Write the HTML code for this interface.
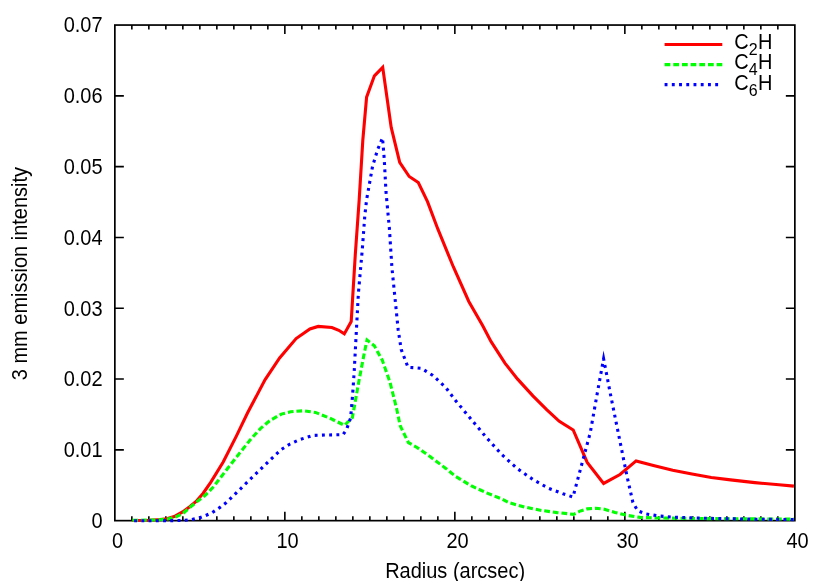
<!DOCTYPE html>
<html><head><meta charset="utf-8"><title>plot</title>
<style>
html,body{margin:0;padding:0;background:#fff;}
body{width:829px;height:581px;overflow:hidden;}
svg{display:block;will-change:transform;}
text{font-family:"Liberation Sans",sans-serif;font-size:20px;fill:#000;}
.sub{font-size:16px;}
</style></head><body>
<svg width="829" height="581" viewBox="0 0 829 581">
<rect x="0" y="0" width="829" height="581" fill="#fff"/>
<path d="M131.85,520.65 v-4.5 M131.85,25.05 v4.5 M148.85,520.65 v-4.5 M148.85,25.05 v4.5 M165.85,520.65 v-4.5 M165.85,25.05 v4.5 M182.85,520.65 v-4.5 M182.85,25.05 v4.5 M199.85,520.65 v-4.5 M199.85,25.05 v4.5 M216.85,520.65 v-4.5 M216.85,25.05 v4.5 M233.85,520.65 v-4.5 M233.85,25.05 v4.5 M250.85,520.65 v-4.5 M250.85,25.05 v4.5 M267.85,520.65 v-4.5 M267.85,25.05 v4.5 M284.85,520.65 v-9.0 M284.85,25.05 v9.0 M301.85,520.65 v-4.5 M301.85,25.05 v4.5 M318.85,520.65 v-4.5 M318.85,25.05 v4.5 M335.85,520.65 v-4.5 M335.85,25.05 v4.5 M352.85,520.65 v-4.5 M352.85,25.05 v4.5 M369.85,520.65 v-4.5 M369.85,25.05 v4.5 M386.85,520.65 v-4.5 M386.85,25.05 v4.5 M403.85,520.65 v-4.5 M403.85,25.05 v4.5 M420.85,520.65 v-4.5 M420.85,25.05 v4.5 M437.85,520.65 v-4.5 M437.85,25.05 v4.5 M454.85,520.65 v-9.0 M454.85,25.05 v9.0 M471.85,520.65 v-4.5 M471.85,25.05 v4.5 M488.85,520.65 v-4.5 M488.85,25.05 v4.5 M505.85,520.65 v-4.5 M505.85,25.05 v4.5 M522.85,520.65 v-4.5 M522.85,25.05 v4.5 M539.85,520.65 v-4.5 M539.85,25.05 v4.5 M556.85,520.65 v-4.5 M556.85,25.05 v4.5 M573.85,520.65 v-4.5 M573.85,25.05 v4.5 M590.85,520.65 v-4.5 M590.85,25.05 v4.5 M607.85,520.65 v-4.5 M607.85,25.05 v4.5 M624.85,520.65 v-9.0 M624.85,25.05 v9.0 M641.85,520.65 v-4.5 M641.85,25.05 v4.5 M658.85,520.65 v-4.5 M658.85,25.05 v4.5 M675.85,520.65 v-4.5 M675.85,25.05 v4.5 M692.85,520.65 v-4.5 M692.85,25.05 v4.5 M709.85,520.65 v-4.5 M709.85,25.05 v4.5 M726.85,520.65 v-4.5 M726.85,25.05 v4.5 M743.85,520.65 v-4.5 M743.85,25.05 v4.5 M760.85,520.65 v-4.5 M760.85,25.05 v4.5 M777.85,520.65 v-4.5 M777.85,25.05 v4.5 M114.85,449.85 h9 M794.85,449.85 h-9 M114.85,379.05 h9 M794.85,379.05 h-9 M114.85,308.25 h9 M794.85,308.25 h-9 M114.85,237.45 h9 M794.85,237.45 h-9 M114.85,166.65 h9 M794.85,166.65 h-9 M114.85,95.85 h9 M794.85,95.85 h-9" stroke="#000" stroke-width="1.6" fill="none"/>
<rect x="114.85" y="25.05" width="680.00" height="495.60" fill="none" stroke="#000" stroke-width="1.7"/>
<g fill="none" stroke-width="3.1" stroke-linejoin="miter" stroke-miterlimit="10">
<path d="M132.3,520.5 L150.0,520.2 L160.0,519.6 L166.8,518.8 L175.0,516.2 L183.0,511.7 L190.0,506.5 L196.1,501.5 L203.0,493.5 L210.7,482.4 L223.2,462.0 L236.6,435.6 L247.5,413.0 L265.0,379.9 L279.6,357.9 L296.1,338.6 L309.9,328.9 L318.2,326.4 L331.9,327.5 L338.8,330.3 L344.3,333.9 L351.2,321.5 L355.3,254.5 L359.2,199.7 L362.8,140.3 L366.6,97.2 L374.4,75.8 L382.7,67.3 L391.2,127.4 L399.7,162.3 L409.2,176.5 L418.3,182.5 L427.5,201.6 L437.9,229.2 L453.4,267.0 L468.8,301.5 L482.6,325.6 L491.1,341.7 L505.1,363.4 L517.4,378.9 L532.9,395.9 L546.9,409.8 L559.3,421.3 L573.2,430.0 L587.2,462.4 L603.6,483.4 L620.0,474.5 L636.1,460.9 L653.4,465.5 L672.7,470.3 L692.0,474.1 L711.3,477.5 L730.6,479.9 L754.8,482.6 L778.9,484.8 L793.9,486.1" stroke="#ff0000"/>
<path d="M132.3,520.3 L150.0,520.1 L160.0,519.8 L168.0,518.9 L176.0,516.8 L183.0,513.4 L191.0,506.5 L205.5,495.0 L213.0,487.2 L220.0,478.4 L226.4,470.0 L240.0,452.6 L250.1,440.0 L260.7,428.3 L270.0,420.5 L281.3,414.1 L290.6,411.8 L303.0,410.8 L315.4,412.4 L329.2,417.9 L344.5,425.3 L352.4,417.5 L359.2,379.4 L364.2,353.5 L367.0,340.0 L374.3,345.8 L382.2,360.0 L389.9,381.9 L396.4,407.7 L400.2,425.8 L408.4,442.6 L417.4,447.7 L430.0,456.5 L445.8,468.4 L455.5,476.4 L471.0,485.7 L486.5,492.9 L502.0,499.0 L509.0,502.7 L524.4,507.0 L541.8,510.5 L557.2,512.6 L573.6,514.3 L579.4,511.4 L587.1,508.9 L595.8,508.3 L603.6,509.1 L615.1,512.4 L626.7,515.3 L640.0,517.4 L658.3,518.0 L706.5,518.6 L793.9,519.1" stroke="#00ff00" stroke-dasharray="5.78 2.89"/>
<path d="M132.3,520.8 L160.0,520.7 L175.0,520.6 L183.0,520.4 L190.0,519.8 L199.0,518.0 L205.5,515.6 L212.2,512.6 L220.0,507.4 L226.0,502.8 L229.6,499.4 L234.1,495.0 L250.0,479.5 L268.6,461.4 L280.8,449.8 L290.0,444.0 L298.9,439.9 L312.6,435.5 L326.4,435.0 L343.0,434.7 L346.5,429.7 L350.6,418.0 L352.6,395.0 L354.2,371.6 L356.8,322.6 L358.4,293.2 L362.3,249.4 L364.8,215.8 L366.6,199.7 L372.6,166.1 L377.7,149.4 L382.5,137.8 L384.2,158.4 L386.0,192.0 L389.4,228.7 L391.9,267.4 L395.8,306.1 L398.2,330.0 L401.2,349.5 L408.0,367.3 L414.8,367.7 L421.3,368.3 L432.9,375.5 L445.8,387.6 L455.5,400.5 L471.0,419.1 L486.5,437.7 L502.0,454.8 L517.4,468.7 L532.9,479.5 L548.4,488.2 L563.9,494.1 L573.0,497.0 L590.3,432.5 L597.4,392.5 L603.6,358.8 L610.5,394.5 L619.5,439.0 L626.9,475.8 L632.9,502.4 L637.7,510.8 L646.2,514.0 L658.3,515.9 L675.1,517.3 L706.5,518.3 L754.8,519.2 L793.9,519.6" stroke="#0000ff" stroke-dasharray="2.89 4.34" stroke-dashoffset="5.37"/>
<path d="M664.6,44.5 H722.3" stroke="#ff0000"/>
<path d="M664.6,64.6 H722.3" stroke="#00ff00" stroke-dasharray="5.78 2.89"/>
<path d="M664.6,84.6 H722.3" stroke="#0000ff" stroke-dasharray="2.89 4.34"/>
</g>
<text transform="translate(102.60,528.05) scale(1,1.075)" text-anchor="end">0</text>
<text transform="translate(102.60,457.25) scale(1,1.075)" text-anchor="end">0.01</text>
<text transform="translate(102.60,386.45) scale(1,1.075)" text-anchor="end">0.02</text>
<text transform="translate(102.60,315.65) scale(1,1.075)" text-anchor="end">0.03</text>
<text transform="translate(102.60,244.85) scale(1,1.075)" text-anchor="end">0.04</text>
<text transform="translate(102.60,174.05) scale(1,1.075)" text-anchor="end">0.05</text>
<text transform="translate(102.60,103.25) scale(1,1.075)" text-anchor="end">0.06</text>
<text transform="translate(102.60,32.45) scale(1,1.075)" text-anchor="end">0.07</text>
<text transform="translate(117.55,547.60) scale(1,1.075)" text-anchor="middle">0</text>
<text transform="translate(287.55,547.60) scale(1,1.075)" text-anchor="middle">10</text>
<text transform="translate(457.55,547.60) scale(1,1.075)" text-anchor="middle">20</text>
<text transform="translate(627.55,547.60) scale(1,1.075)" text-anchor="middle">30</text>
<text transform="translate(797.55,547.60) scale(1,1.075)" text-anchor="middle">40</text>
<text transform="translate(455.10,577.50) scale(1,1.075)" text-anchor="middle">Radius (arcsec)</text>
<text transform="translate(27.20,273.60) rotate(-90) scale(1,1.075)" text-anchor="middle">3 mm emission intensity</text>
<text transform="translate(734.20,48.90) scale(1,1.075)" text-anchor="start">C<tspan class="sub" dy="5.7">2</tspan><tspan dy="-5.7" dx="0.4">H</tspan></text>
<text transform="translate(734.20,69.20) scale(1,1.075)" text-anchor="start">C<tspan class="sub" dy="5.7">4</tspan><tspan dy="-5.7" dx="0.4">H</tspan></text>
<text transform="translate(734.20,89.50) scale(1,1.075)" text-anchor="start">C<tspan class="sub" dy="5.7">6</tspan><tspan dy="-5.7" dx="0.4">H</tspan></text>
</svg>
</body></html>
